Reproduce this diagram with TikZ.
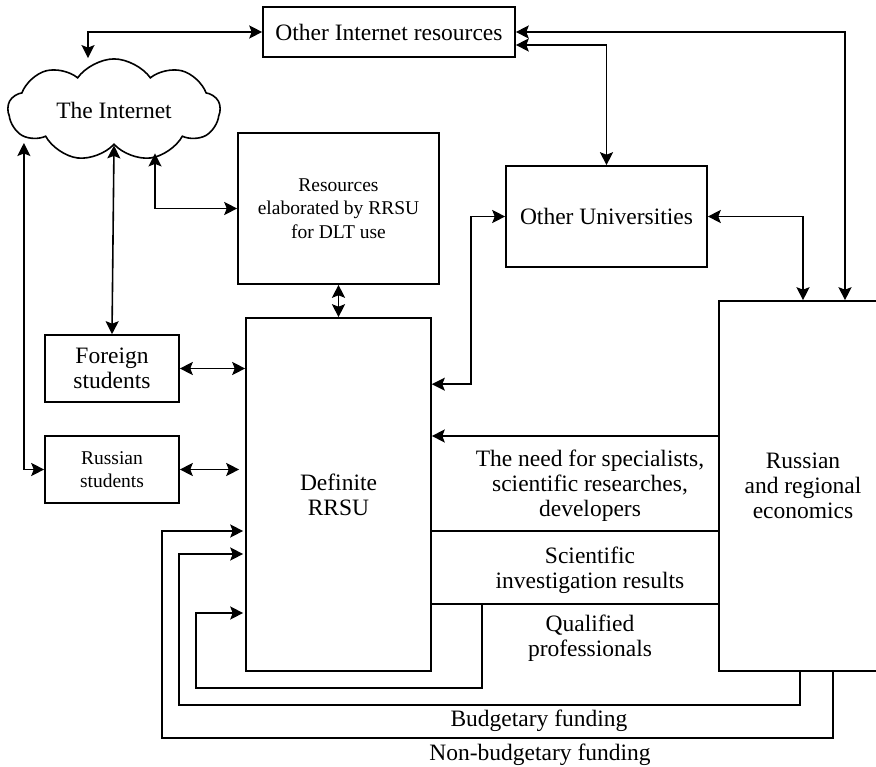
\documentclass[tikz,border=0pt]{standalone}
\usepackage{fontspec}
\setmainfont{Liberation Serif}
\usetikzlibrary{arrows.meta}
\usetikzlibrary{shapes.symbols}
\usetikzlibrary{calc,positioning}
\tikzset{
  flow/.style={line width=1.6pt,-{Stealth[length=13pt,width=13pt,inset=2.5pt]}},
  twoway/.style={line width=1.6pt,{Stealth[length=13pt,width=13pt,inset=2.5pt]}-{Stealth[length=13pt,width=13pt,inset=2.5pt]}},
  plain/.style={line width=1.6pt},
  bigtext/.style={font=\fontsize{23.5}{25}\selectfont,align=center},
  smalltext/.style={font=\fontsize{19.5}{23.5}\selectfont,align=center}
}
\begin{document}
\begin{tikzpicture}[x=1pt,y=-1pt]
    \useasboundingbox (0,0) rectangle (876,767);
    \begin{scope}[line width=1.6pt,inner sep=0pt]
      \tikzstyle{every node}=[draw]
      \node[bigtext,minimum width=252,minimum height=50] (OIR) at (389,32) {Other Internet resources};
      \node[bigtext,cloud,cloud puffs=9,cloud puff arc=110,aspect=2.1,
            minimum width=212,minimum height=100] (Net) at (114,110) {The Internet};
      \node[smalltext,minimum width=201,minimum height=151] (Res) at (338.5,208.5)
            {Resources\\elaborated by RRSU\\for DLT use};
      \node[bigtext,minimum width=201,minimum height=101] (OU) at (606.5,216.5) {Other Universities};
      \node[bigtext,minimum width=185,minimum height=353] (RRSU) at (338.5,494.5) {Definite\\RRSU};
      \node[bigtext,minimum width=134,minimum height=67] (FS) at (112,368.5) {Foreign\\students};
      \node[smalltext,minimum width=134,minimum height=67] (RS) at (112,469.5) {Russian\\students};
      \node[bigtext,minimum width=168,minimum height=370] (RE) at (803,486)
            {Russian\\and regional\\economics};
    \end{scope}
    % labels on the flows
    \node[bigtext] (NeedL) at (590,486) {The need for specialists,\\scientific researches,\\developers};
    \node[bigtext] (SciL) at (590,570) {Scientific\\investigation results};
    \node[bigtext] (QualL) at (590,638) {Qualified\\professionals};
    \node[bigtext] (BudL) at (539,721) {Budgetary funding};
    \node[bigtext] (NonL) at (540,755) {Non-budgetary funding};
    % internet links
    \draw[twoway] ($(Net.north)+(-26,0)$) |- (OIR.west);
    \draw[twoway] (OIR.east) -| ($(RE.north)+(42,0)$);
    \draw[twoway] ($(OIR.east)+(0,13)$) -| (OU.north);
    \draw[twoway] (OU.east) -| (RE.north);
    \draw[twoway] ($(Net.south)+(41,8)$) |- (Res.west);
    \draw[twoway] (Res.south) -- (RRSU.north);
    \draw[twoway] (Net.south) -- (FS.north);
    \draw[twoway] ($(Net.west)+(17,33)$) |- (RS.west);
    \draw[twoway] (FS.east) -- (RRSU.west |- FS.east);
    \draw[twoway] (RS.east) -- ($(RRSU.west |- RS.east)+(-6,0)$);
    \draw[twoway] ($(RRSU.north east)+(0,67)$) -| ($(OU.west)+(-34,0)$) -- (OU.west);
    % economics and the university
    \draw[flow] ($(RE.west)+(0,-50)$) -- ($(RRSU.east)+(0,-58.5)$);
    \draw[plain] ($(RRSU.east)+(0,36.5)$) -- ($(RE.west)+(0,45)$);
    \draw[plain] ($(RRSU.east)+(0,109.5)$) -- ($(RE.west)+(0,118)$);
    \draw[flow] ($(RRSU.east)+(50,109.5)$) |- (196,688) |- ($(RRSU.west)+(-2,118.5)$);
    \draw[flow] ($(RE.south)+(-3,0)$) |- (179,705) |- ($(RRSU.west)+(-2,59.5)$);
    \draw[flow] ($(RE.south)+(30,0)$) |- (162,738) |- ($(RRSU.west)+(-2,36.5)$);
  \end{tikzpicture}
\end{document}
